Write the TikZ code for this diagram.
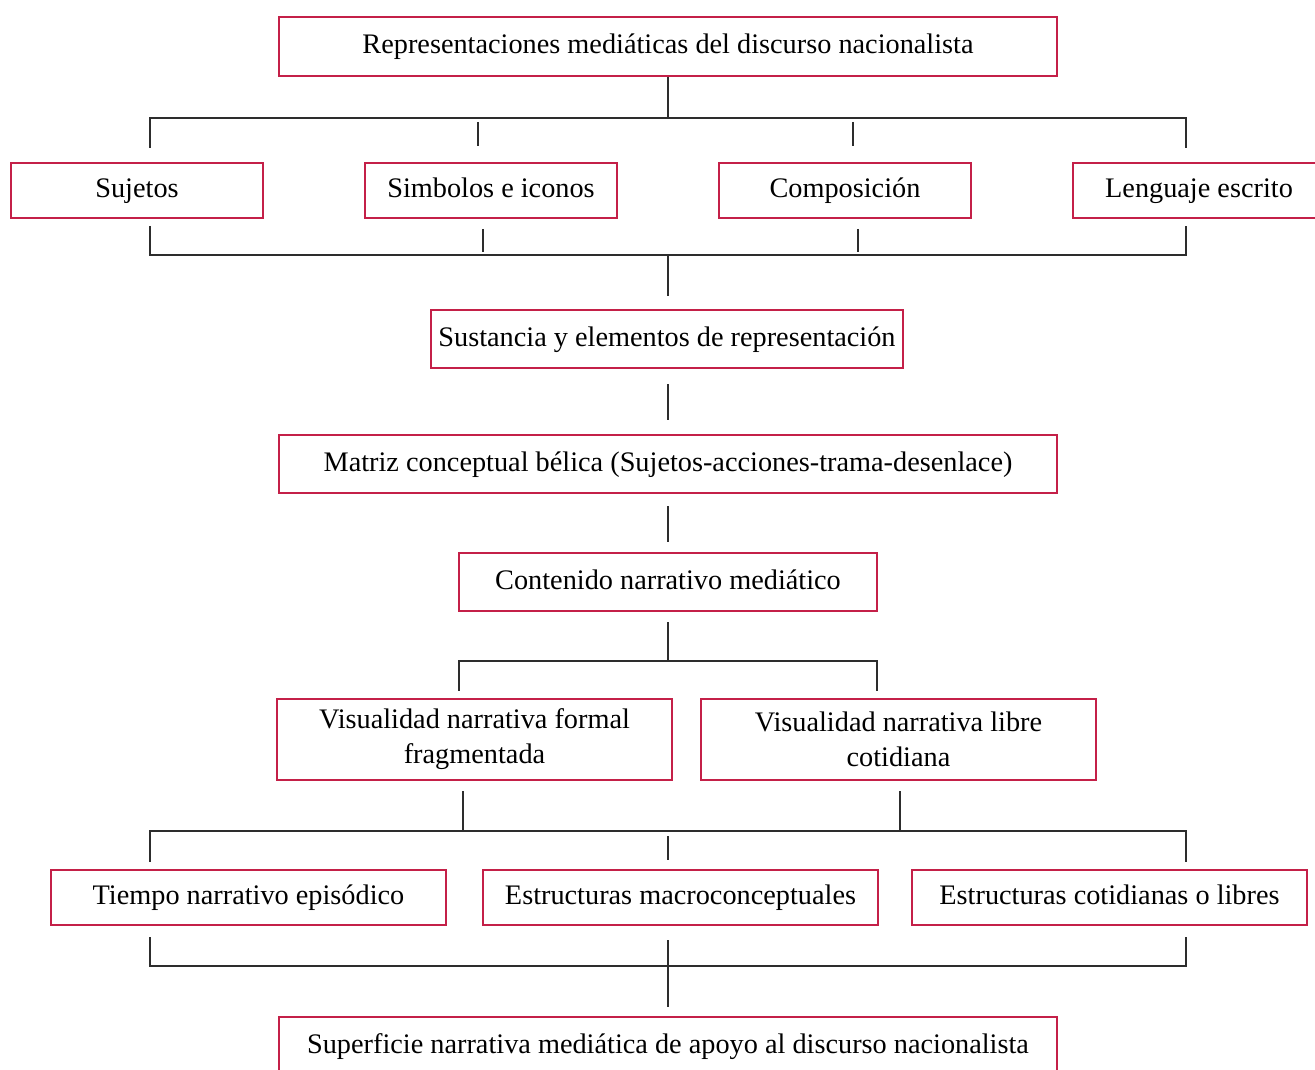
\documentclass[tikz,border=0pt]{standalone}
\usepackage{fontspec}
\setmainfont{Liberation Serif}
\usetikzlibrary{positioning}
\definecolor{boxred}{RGB}{196,32,72}
\definecolor{linegray}{RGB}{45,45,45}
\tikzset{
  box/.style={draw=boxred, line width=1.3pt, fill=white, inner sep=0pt,
    align=center, font=\fontsize{16.1}{20}\selectfont},
  oneline/.style={text height=11.5pt, text depth=3.5pt},
  wide/.style={box, oneline, minimum width=15.56cm, minimum height=1.18cm},
  small/.style={box, oneline, minimum width=5.04cm, minimum height=1.1cm},
  mid/.style={box, minimum width=7.9cm},
  link/.style={draw=linegray, line width=1.1pt},
}
\begin{document}
\begin{tikzpicture}[x=0.02cm, y=-0.02cm]
    \useasboundingbox (0,0) rectangle (1315,1070);
    \clip (0,0) rectangle (1315,1070);
    % boxes
    \node[wide] (top) at (668,46.5) {Representaciones mediáticas del discurso nacionalista};
    \node[small] (suj) at (137,190.5) {Sujetos};
    \node[small] (sim) at (491,190.5) {Simbolos e iconos};
    \node[small] (com) at (845,190.5) {Composición};
    \node[small] (len) at (1199,190.5) {Lenguaje escrito};
    \node[box, oneline, minimum width=9.44cm, minimum height=1.16cm] (sus) at (667,339) {Sustancia y elementos de representación};
    \node[wide, minimum height=1.16cm] (mat) at (668,464) {Matriz conceptual bélica (Sujetos-acciones-trama-desenlace)};
    \node[box, oneline, minimum width=8.36cm, minimum height=1.16cm] (con) at (668,582) {Contenido narrativo mediático};
    \node[mid, minimum height=1.62cm] (vf) at (474.5,739.5) {Visualidad narrativa formal\\fragmentada};
    \node[mid, minimum height=1.62cm] (vl) at (898.5,739.5) {Visualidad narrativa libre\\cotidiana};
    \node[mid, oneline, minimum height=1.1cm] (tie) at (248.5,897.5) {Tiempo narrativo episódico};
    \node[mid, oneline, minimum height=1.1cm] (mac) at (680.5,897.5) {Estructuras macroconceptuales};
    \node[mid, oneline, minimum height=1.1cm] (cot) at (1109.5,897.5) {Estructuras cotidianas o libres};
    \node[wide] (sup) at (668,1046.5) {Superficie narrativa mediática de apoyo al discurso nacionalista};
    % bus points
    \coordinate (b1) at (668,118);   \coordinate (b1l) at (150,118);  \coordinate (b1r) at (1186,118);
    \coordinate (b2) at (668,255);   \coordinate (b2l) at (150,255);  \coordinate (b2r) at (1186,255);
    \coordinate (b3) at (668,661);   \coordinate (b3l) at (459,661);  \coordinate (b3r) at (877,661);
    \coordinate (b4l) at (150,831);  \coordinate (b4r) at (1186,831);
    \coordinate (b4a) at (463,831);  \coordinate (b4b) at (900,831);
    \coordinate (b5l) at (150,966);  \coordinate (b5r) at (1186,966);
    \coordinate (t1) at (478,122);   \coordinate (t2) at (853,122);
    \coordinate (t3) at (483,229);   \coordinate (t4) at (858,229);
    \coordinate (t5) at (668,836);   \coordinate (t6) at (668,940);
    % connectors
    \draw[link] (top.south) -- (b1);
    \draw[link] ([yshift=-0.6cm]b1l) -- (b1l) -- (b1r) -- ([yshift=-0.6cm]b1r);
    \draw[link] (t1) -- ++(0,24);
    \draw[link] (t2) -- ++(0,24);
    \draw[link] ([yshift=0.58cm]b2l) -- (b2l) -- (b2r) -- ([yshift=0.58cm]b2r);
    \draw[link] (t3) -- ++(0,23);
    \draw[link] (t4) -- ++(0,23);
    \draw[link, shorten >=0.26cm] (b2) -- (b2 |- sus.north);
    \draw[link, shorten <=0.3cm, shorten >=0.28cm] (b2 |- sus.south) -- (b2 |- mat.north);
    \draw[link, shorten <=0.24cm, shorten >=0.2cm] (mat.south) -- (con.north);
    \draw[link, shorten <=0.2cm] (con.south) -- (b3);
    \draw[link] ([yshift=-0.6cm]b3l) -- (b3l) -- (b3r) -- ([yshift=-0.6cm]b3r);
    \draw[link] ([yshift=0.8cm]b4a) -- (b4a);
    \draw[link] ([yshift=0.8cm]b4b) -- (b4b);
    \draw[link] ([yshift=-0.62cm]b4l) -- (b4l) -- (b4r) -- ([yshift=-0.62cm]b4r);
    \draw[link] (t5) -- ++(0,24);
    \draw[link] ([yshift=0.58cm]b5l) -- (b5l) -- (b5r) -- ([yshift=0.58cm]b5r);
    \draw[link, shorten >=0.18cm] (t6) -- (sup.north);
\end{tikzpicture}
\end{document}
